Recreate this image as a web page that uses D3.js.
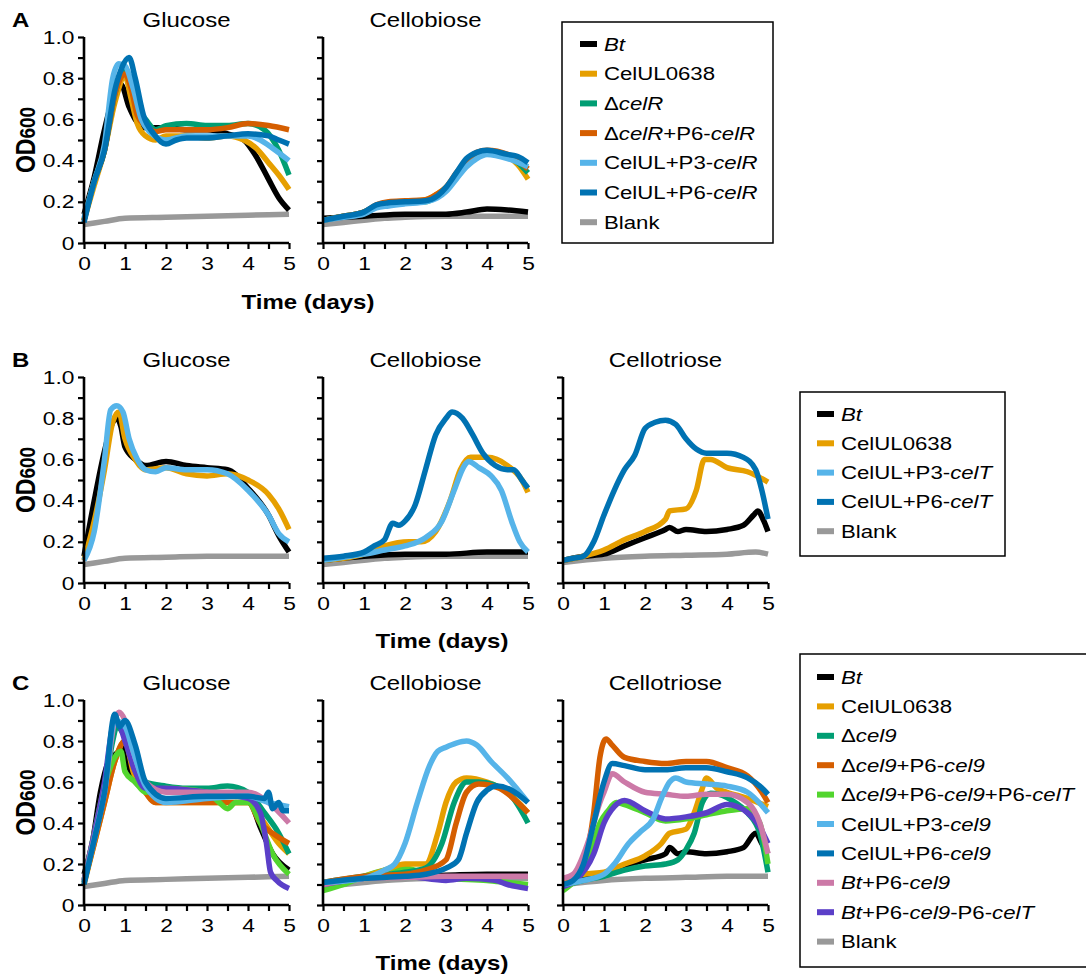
<!DOCTYPE html>
<meta charset="utf-8">
<script src="https://d3js.org/d3.v7.min.js"></script>
<style>
  body { margin: 0; background: #fff; }
  svg { font-family: "Liberation Sans", Arial, sans-serif; }
</style>
<div id="my_dataviz"></div>
<script>

// ---- data: [day, OD600], one array per panel ----
var aGlucose = [
  ["blank", [[0,.09],[.5,.105],[1,.12],[2,.125],[3,.13],[4,.135],[5,.14]]],
  ["bt",    [[0,.14],[.25,.32],[.5,.55],[.75,.73],[.9,.77],[1.1,.66],[1.25,.6],[1.5,.56],[2,.56],[2.5,.55],[3,.55],[3.5,.53],[3.9,.5],[4.2,.42],[4.5,.31],[4.75,.22],[5,.16]]],
  ["ul",    [[0,.11],[.25,.28],[.5,.45],[.75,.68],[1,.81],[1.15,.7],[1.3,.58],[1.5,.52],[1.75,.5],[2,.52],[2.5,.52],[3,.51],[3.5,.52],[3.9,.5],[4.2,.46],[4.5,.39],[4.75,.33],[5,.26]]],
  ["d",     [[0,.11],[.25,.3],[.5,.45],[.75,.72],[1,.84],[1.15,.78],[1.3,.65],[1.5,.6],[1.75,.55],[2,.57],[2.5,.58],[3,.57],[3.5,.57],[4,.58],[4.4,.55],[4.75,.45],[5,.33]]],
  ["dc",    [[0,.11],[.25,.3],[.5,.45],[.75,.72],[1,.82],[1.15,.75],[1.3,.62],[1.5,.57],[1.75,.54],[2,.55],[2.5,.55],[3,.55],[3.5,.56],[4,.58],[4.5,.57],[5,.55]]],
  ["p3",    [[0,.12],[.25,.3],[.5,.48],[.7,.8],[.85,.87],[1,.86],[1.2,.75],[1.4,.6],[1.6,.54],[2,.5],[2.5,.52],[3,.52],[3.5,.52],[4,.52],[4.3,.5],[4.6,.46],[5,.4]]],
  ["p6",    [[0,.1],[.25,.3],[.5,.45],[.75,.74],[.9,.84],[1.1,.9],[1.25,.8],[1.45,.62],[1.7,.53],[2,.48],[2.25,.5],[2.5,.51],[3,.51],[3.5,.52],[4,.53],[4.5,.52],[4.75,.5],[5,.48]]]
];
var aCellobiose = [
  ["blank", [[0,.09],[.5,.1],[1,.11],[1.5,.12],[2,.125],[3,.13],[5,.13]]],
  ["bt",    [[0,.12],[1,.13],[2,.14],[3,.14],[3.5,.15],[4,.165],[4.5,.16],[5,.15]]],
  ["ul",    [[0,.11],[.5,.13],[1,.15],[1.3,.18],[1.6,.19],[2,.2],[2.5,.21],[2.8,.24],[3,.27],[3.25,.33],[3.5,.39],[3.75,.43],[4,.44],[4.5,.42],[4.75,.38],[5,.31]]],
  ["d",     [[0,.11],[.5,.13],[1,.15],[1.3,.18],[1.6,.19],[2,.2],[2.5,.2],[2.8,.23],[3,.26],[3.25,.33],[3.5,.39],[3.75,.43],[4,.44],[4.5,.42],[4.75,.39],[5,.34]]],
  ["dc",    [[0,.11],[.5,.13],[1,.15],[1.3,.185],[1.6,.2],[2,.205],[2.5,.21],[2.8,.24],[3,.27],[3.25,.34],[3.5,.4],[3.75,.44],[4,.45],[4.5,.43],[4.75,.4],[5,.36]]],
  ["p3",    [[0,.11],[.5,.125],[1,.14],[1.3,.17],[1.6,.18],[2,.19],[2.5,.2],[2.8,.22],[3,.25],[3.25,.31],[3.5,.37],[3.75,.41],[4,.43],[4.5,.41],[5,.37]]],
  ["p6",    [[0,.11],[.5,.13],[1,.15],[1.3,.185],[1.6,.195],[2,.2],[2.5,.205],[2.8,.23],[3,.27],[3.25,.34],[3.5,.41],[3.75,.44],[4,.45],[4.5,.43],[4.75,.42],[5,.39]]]
];

var bGlucose = [
  ["blank", [[0,.09],[.5,.105],[1,.12],[2,.125],[3,.13],[4,.13],[5,.13]]],
  ["bt",    [[0,.13],[.25,.4],[.5,.64],[.7,.78],[.8,.8],[.9,.76],[1,.66],[1.25,.6],[1.5,.57],[2,.59],[2.5,.57],[3,.56],[3.5,.55],[4,.46],[4.5,.33],[4.75,.23],[5,.15]]],
  ["ul",    [[0,.11],[.25,.3],[.5,.55],[.7,.78],[.85,.83],[1,.7],[1.25,.6],[1.5,.55],[2,.56],[2.5,.53],[3,.52],[3.5,.53],[4,.5],[4.5,.43],[4.75,.36],[5,.26]]],
  ["p3",    [[0,.11],[.25,.25],[.5,.6],[.65,.84],[.8,.86],[.95,.83],[1.1,.7],[1.3,.6],[1.5,.55],[1.75,.54],[2,.56],[2.5,.55],[3,.55],[3.5,.53],[4,.45],[4.5,.33],[4.75,.24],[5,.2]]]
];
var bCellobiose = [
  ["blank", [[0,.09],[.5,.1],[1,.11],[1.5,.12],[2,.125],[3,.13],[5,.13]]],
  ["bt",    [[0,.11],[1,.13],[2,.14],[3,.14],[4,.15],[5,.15]]],
  ["ul",    [[0,.11],[.5,.12],[1,.14],[1.5,.18],[2.1,.2],[2.4,.2],[2.75,.25],[3.1,.4],[3.35,.55],[3.6,.61],[4,.61],[4.5,.57],[4.85,.5],[5,.44]]],
  ["p3",    [[0,.11],[1,.14],[1.5,.16],[2,.18],[2.5,.22],[2.9,.3],[3.2,.45],[3.45,.57],[3.55,.59],[3.8,.56],[4.1,.52],[4.35,.45],[4.6,.3],[4.8,.2],[5,.15]]],
  ["p6",    [[0,.12],[.5,.13],[1,.15],[1.25,.18],[1.5,.21],[1.7,.29],[1.85,.28],[2,.3],[2.25,.38],[2.5,.55],[2.75,.72],[3,.8],[3.15,.83],[3.4,.8],[3.65,.72],[3.9,.63],[4.2,.57],[4.5,.55],[4.65,.55],[4.85,.5],[5,.46]]]
];
var bCellotriose = [
  ["blank", [[0,.1],[1,.12],[2,.13],[3,.135],[4,.14],[4.7,.15],[5,.14]]],
  ["bt",    [[0,.11],[.5,.13],[1,.14],[1.5,.18],[2,.22],[2.5,.26],[2.6,.27],[2.8,.25],[3,.26],[3.5,.25],[4,.26],[4.4,.28],[4.65,.33],[4.75,.35],[4.9,.3],[5,.25]]],
  ["ul",    [[0,.11],[.5,.13],[1,.16],[1.5,.21],[2,.25],[2.5,.31],[2.6,.35],[3,.36],[3.25,.45],[3.45,.6],[3.6,.6],[4,.56],[4.5,.54],[5,.49]]],
  ["p6",    [[0,.11],[.25,.12],[.5,.13],[.75,.2],[1,.33],[1.25,.45],[1.5,.55],[1.75,.62],[2,.75],[2.25,.78],[2.5,.79],[2.75,.77],[3,.7],[3.25,.65],[3.5,.63],[4,.63],[4.4,.61],[4.7,.55],[4.85,.45],[5,.31]]]
];

var cGlucose = [
  ["blank", [[0,.09],[.5,.105],[1,.12],[2,.125],[3,.13],[4,.135],[5,.14]]],
  ["bt",    [[0,.15],[.2,.3],[.4,.55],[.6,.7],[.8,.74],[.95,.77],[1.1,.67],[1.25,.6],[1.5,.57],[2,.57],[3,.55],[3.5,.54],[4,.52],[4.3,.38],[4.6,.25],[5,.17]]],
  ["ul",    [[0,.1],[.25,.3],[.5,.5],[.75,.7],[1,.8],[1.2,.65],[1.5,.55],[1.75,.5],[2,.5],[3,.5],[4,.5],[4.4,.4],[4.75,.3],[5,.25]]],
  ["d",     [[0,.11],[.25,.32],[.5,.55],[.7,.8],[.8,.87],[1,.82],[1.25,.68],[1.5,.6],[2,.58],[2.5,.57],[3,.57],[3.5,.58],[4,.55],[4.4,.45],[4.75,.35],[5,.25]]],
  ["dc",    [[0,.11],[.25,.3],[.5,.5],[.75,.7],[1,.8],[1.2,.68],[1.5,.55],[1.75,.5],[2,.5],[3,.5],[4,.5],[4.3,.4],[4.6,.35],[5,.3]]],
  ["dct",   [[0,.12],[.25,.35],[.5,.58],[.75,.72],[.9,.75],[1,.65],[1.25,.6],[1.5,.55],[2,.57],[3,.55],[3.3,.5],[3.5,.47],[3.7,.5],[4,.5],[4.3,.4],[4.6,.25],[5,.15]]],
  ["btct",  [[0,.12],[.25,.35],[.5,.6],[.7,.87],[.8,.9],[1,.8],[1.25,.65],[1.5,.57],[2,.57],[3,.55],[4,.52],[4.3,.45],[4.45,.3],[4.55,.16],[4.7,.12],[5,.08]]],
  ["btc",   [[0,.12],[.25,.33],[.5,.55],[.75,.9],[.85,.94],[1,.9],[1.2,.75],[1.5,.6],[2,.55],[3,.55],[4,.55],[4.5,.5],[5,.4]]],
  ["p3",    [[0,.11],[.25,.32],[.5,.55],[.75,.9],[1,.87],[1.2,.75],[1.5,.58],[2,.5],[3,.52],[4,.53],[4.5,.5],[5,.48]]],
  ["p6",    [[0,.1],[.25,.32],[.5,.55],[.75,.93],[.87,.87],[1,.9],[1.25,.78],[1.5,.6],[2,.52],[3,.53],[4,.53],[4.4,.52],[4.5,.55],[4.6,.47],[4.75,.5],[4.85,.46],[5,.46]]]
];
var cCellobiose = [
  ["blank", [[0,.09],[.5,.1],[1,.11],[1.5,.12],[2,.125],[3,.13],[5,.13]]],
  ["bt",    [[0,.11],[1,.13],[2,.14],[3,.145],[4,.15],[5,.15]]],
  ["dct",   [[0,.07],[.5,.1],[1,.14],[1.5,.17],[2,.18],[2.5,.15],[3,.13],[4,.12],[4.5,.11],[5,.1]]],
  ["btct",  [[0,.1],[1,.13],[2,.14],[3,.12],[3.5,.13],[4.2,.12],[4.5,.1],[5,.08]]],
  ["btc",   [[0,.1],[1,.13],[2,.135],[3,.14],[4,.14],[5,.14]]],
  ["ul",    [[0,.11],[1,.14],[1.5,.17],[2,.2],[2.5,.2],[2.8,.35],[3,.5],[3.25,.6],[3.5,.62],[4,.6],[4.5,.55],[5,.45]]],
  ["d",     [[0,.11],[1,.14],[2,.16],[2.5,.18],[2.9,.3],[3.2,.5],[3.5,.6],[3.8,.6],[4.5,.55],[5,.4]]],
  ["dc",    [[0,.11],[1,.14],[2,.15],[2.5,.17],[3,.22],[3.25,.4],[3.5,.55],[3.8,.59],[4.3,.57],[4.75,.5],[5,.45]]],
  ["p3",    [[0,.11],[1,.13],[1.5,.17],[1.75,.2],[2,.3],[2.3,.5],[2.6,.68],[2.8,.75],[3,.77],[3.25,.79],[3.5,.8],[3.75,.78],[4.1,.7],[4.5,.62],[4.8,.55],[5,.5]]],
  ["p6",    [[0,.11],[1,.13],[2,.14],[2.5,.15],[3,.18],[3.3,.22],[3.5,.35],[3.75,.5],[4,.56],[4.25,.58],[4.6,.56],[5,.5]]]
];
var cCellotriose = [
  ["blank", [[0,.1],[1,.12],[2,.13],[3,.135],[4,.14],[5,.14]]],
  ["bt",    [[0,.11],[.5,.13],[1,.15],[1.5,.19],[2,.22],[2.5,.25],[2.6,.28],[2.8,.25],[3,.26],[3.5,.25],[4,.26],[4.4,.28],[4.7,.35],[4.85,.3],[5,.25]]],
  ["ul",    [[0,.11],[.5,.15],[1,.16],[1.5,.2],[2,.24],[2.4,.3],[2.6,.35],[3,.37],[3.2,.45],[3.4,.57],[3.5,.62],[3.75,.57],[4,.55],[4.5,.52],[5,.48]]],
  ["d",     [[0,.09],[.5,.12],[1,.14],[1.5,.17],[2,.19],[2.5,.2],[2.8,.22],[3,.27],[3.2,.35],[3.4,.5],[3.6,.545],[3.8,.54],[4.2,.5],[4.5,.45],[4.8,.35],[5,.16]]],
  ["dc",    [[0,.1],[.25,.12],[.5,.2],[.75,.45],[.9,.72],[1.05,.81],[1.2,.78],[1.5,.72],[2,.7],[2.5,.69],[3,.7],[3.5,.7],[4,.67],[4.5,.63],[4.85,.55],[5,.5]]],
  ["dct",   [[0,.07],[.3,.12],[.6,.2],[.9,.4],[1.1,.46],[1.3,.5],[1.5,.49],[2,.45],[2.5,.41],[3,.42],[3.5,.44],[4,.46],[4.5,.47],[4.8,.4],[5,.2]]],
  ["btct",  [[0,.09],[.3,.12],[.75,.25],[1,.4],[1.25,.48],[1.5,.51],[2,.46],[2.5,.42],[3,.43],[3.5,.45],[4,.49],[4.5,.45],[4.8,.38],[5,.3]]],
  ["btc",   [[0,.13],[.25,.15],[.6,.3],[.9,.5],[1,.55],[1.2,.64],[1.5,.6],[2,.55],[2.5,.54],[3,.53],[3.5,.54],[4,.54],[4.5,.5],[4.8,.4],[5,.25]]],
  ["p3",    [[0,.1],[.5,.12],[1,.15],[1.25,.2],[1.6,.3],[1.9,.36],[2.2,.42],[2.4,.52],[2.6,.6],[2.75,.62],[3,.6],[3.5,.59],[4,.58],[4.5,.55],[5,.45]]],
  ["p6",    [[0,.1],[.25,.12],[.5,.2],[.75,.4],[1,.6],[1.2,.69],[1.5,.68],[2,.66],[2.5,.66],[3,.67],[3.5,.67],[4,.65],[4.5,.62],[4.8,.58],[5,.54]]]
];

// legend entries: key + label pieces ([text, italic])
var legendA = [
  ["bt",    [["Bt",1]]],
  ["ul",    [["CelUL0638",0]]],
  ["d",     [["\u0394",0],["celR",1]]],
  ["dc",    [["\u0394",0],["celR",1],["+P6-",0],["celR",1]]],
  ["p3",    [["CelUL+P3-",0],["celR",1]]],
  ["p6",    [["CelUL+P6-",0],["celR",1]]],
  ["blank", [["Blank",0]]]
];
var legendB = [
  ["bt",    [["Bt",1]]],
  ["ul",    [["CelUL0638",0]]],
  ["p3",    [["CelUL+P3-",0],["celT",1]]],
  ["p6",    [["CelUL+P6-",0],["celT",1]]],
  ["blank", [["Blank",0]]]
];
var legendC = [
  ["bt",    [["Bt",1]]],
  ["ul",    [["CelUL0638",0]]],
  ["d",     [["\u0394",0],["cel9",1]]],
  ["dc",    [["\u0394",0],["cel9",1],["+P6-",0],["cel9",1]]],
  ["dct",   [["\u0394",0],["cel9",1],["+P6-",0],["cel9",1],["+P6-",0],["celT",1]]],
  ["p3",    [["CelUL+P3-",0],["cel9",1]]],
  ["p6",    [["CelUL+P6-",0],["cel9",1]]],
  ["btc",   [["Bt",1],["+P6-",0],["cel9",1]]],
  ["btct",  [["Bt",1],["+P6-",0],["cel9",1],["-P6-",0],["celT",1]]],
  ["blank", [["Blank",0]]]
];

var yTicks = [0, .1, .2, .3, .4, .5, .6, .7, .8, .9, 1];
var xTicks = [0, .5, 1, 1.5, 2, 2.5, 3, 3.5, 4, 4.5, 5];

// ---- styles ----
var color = {
  bt: "#000000", ul: "#E69F00", d: "#009E73", dc: "#D55E00", dct: "#52D52E",
  p3: "#56B4E9", p6: "#0072B2", btc: "#CC79A7", btct: "#5B3FC8", blank: "#999999"
};
var SX = 1.2;   // the figure's lettering is a bit wide

var svg = d3.select("#my_dataviz")
  .append("svg")
    .attr("width", 1086)
    .attr("height", 980);

function label(x, y, str, size, weight, anchor) {
  return svg.append("text")
    .attr("transform", "translate(" + x + "," + y + ") scale(" + SX + ",1)")
    .attr("text-anchor", anchor || "start")
    .style("font-size", size + "px")
    .style("font-weight", weight || "normal")
    .text(str);
}

var line = d3.line().curve(d3.curveMonotoneX);

function panel(title, data, x0, x1, top, bottom, withLabels) {
  var x = d3.scaleLinear().domain([0, 5]).range([x0, x1]);
  var y = d3.scaleLinear().domain([0, 1]).range([bottom, top]);

  label((x0 + x1) / 2, top - 10, title, 20, "normal", "middle");

  data.forEach(function(s) {
    svg.append("path")
      .attr("d", line.x(function(d) { return x(d[0]); }).y(function(d) { return y(d[1]); })(s[1]))
      .attr("fill", "none")
      .attr("stroke", color[s[0]])
      .attr("stroke-width", 5.5)
      .attr("stroke-linejoin", "round");
  });

  var ya = svg.append("g")
    .attr("transform", "translate(" + x0 + ",0)")
    .call(d3.axisLeft(y).tickValues(yTicks).tickSize(6).tickPadding(2)
      .tickFormat(function(v) {
        if (!withLabels || Math.round(v * 10) % 2) return "";
        return v === 0 ? "0" : d3.format(".1f")(v);
      }));
  var xa = svg.append("g")
    .attr("transform", "translate(0," + bottom + ")")
    .call(d3.axisBottom(x).tickValues(xTicks).tickSize(6).tickPadding(8)
      .tickFormat(function(v) { return v % 1 ? "" : v; }));

  [ya, xa].forEach(function(a) {
    a.select(".domain").attr("stroke-width", 2.6).attr("d", a === ya
      ? "M0," + top + "V" + bottom
      : "M" + x0 + ",0H" + x1);
    a.selectAll(".tick line").attr("stroke-width", 2.2);
    a.selectAll("text")
      .attr("transform", "scale(" + SX + ",1)")
      .style("font-size", "19px")
      .attr("fill", "#000");
  });
}

function legend(items, bx, by, bw, bh, cy, step, sx, tx) {
  svg.append("rect")
    .attr("x", bx).attr("y", by).attr("width", bw).attr("height", bh)
    .attr("fill", "none").attr("stroke", "#000").attr("stroke-width", 1.5);
  items.forEach(function(it, i) {
    var yy = cy + i * step;
    svg.append("rect")
      .attr("x", sx).attr("y", yy - 3).attr("width", 17).attr("height", 6)
      .attr("fill", color[it[0]]);
    var t = label(tx, yy + 6.5, "", 18.5);
    it[1].forEach(function(p) {
      t.append("tspan").text(p[0]).style("font-style", p[1] ? "italic" : "normal");
    });
  });
}

function rowLabels(letter, top, bottom, timeX, timeY) {
  label(12, top - 10, letter, 20, "bold");
  var od = svg.append("text")
    .attr("transform", "translate(35," + (top + bottom) / 2 + ") rotate(-90) scale(1," + SX + ")")
    .attr("text-anchor", "middle")
    .style("font-weight", "bold");
  od.append("tspan").text("OD").style("font-size", "23px");
  od.append("tspan").text("600").style("font-size", "19px");
  label(timeX, timeY, "Time (days)", 20, "bold", "middle");
}

// Row A
panel("Glucose",    aGlucose,    84, 289, 37, 243, true);
panel("Cellobiose", aCellobiose, 323, 528, 37, 243, false);
rowLabels("A", 37, 243, 308, 309);
legend(legendA, 562, 22, 211, 221, 44, 29.7, 580, 604);

// Row B
panel("Glucose",     bGlucose,     84, 289, 377, 583, true);
panel("Cellobiose",  bCellobiose,  323, 528, 377, 583, false);
panel("Cellotriose", bCellotriose, 563, 768, 377, 583, false);
rowLabels("B", 377, 583, 442, 648);
legend(legendB, 800, 392, 205, 164, 414, 29.3, 817, 841);

// Row C
panel("Glucose",     cGlucose,     84, 289, 700, 905, true);
panel("Cellobiose",  cCellobiose,  323, 528, 700, 905, false);
panel("Cellotriose", cCellotriose, 563, 768, 700, 905, false);
rowLabels("C", 700, 905, 442, 970);
legend(legendC, 800, 654, 300, 313, 677, 29.4, 817, 841);

</script>
